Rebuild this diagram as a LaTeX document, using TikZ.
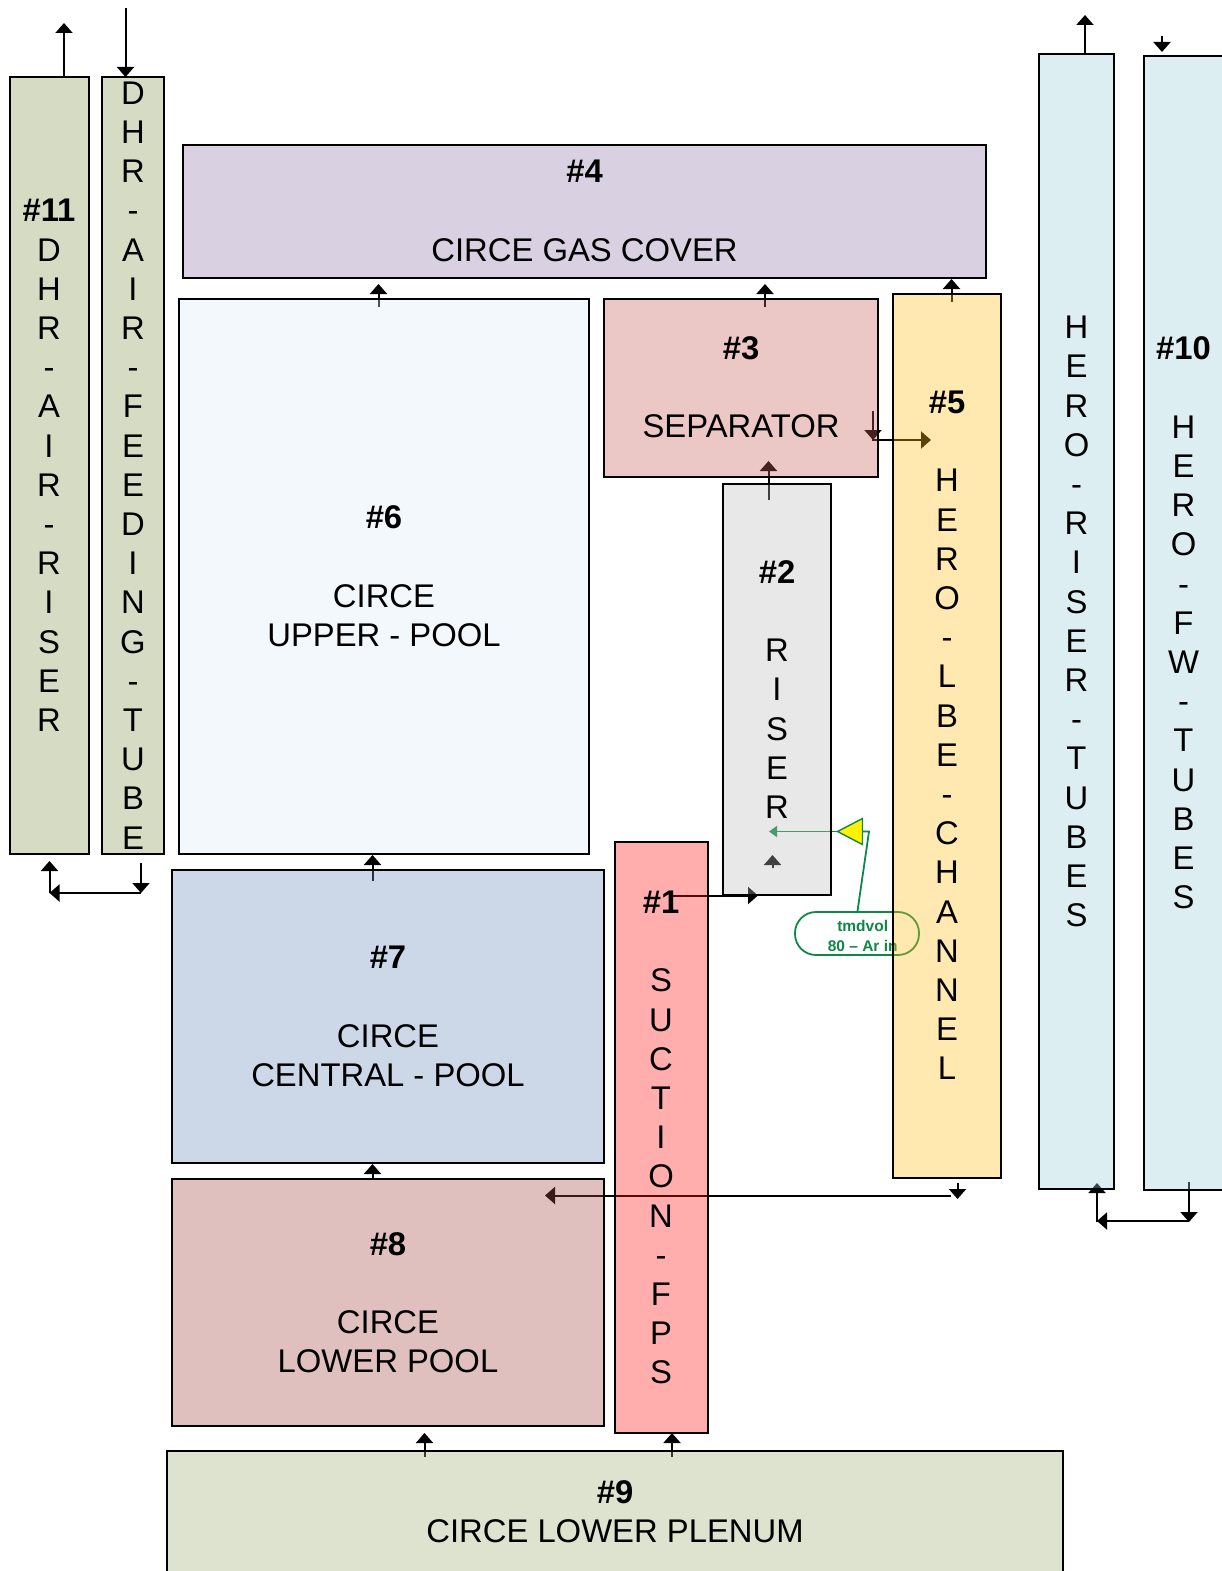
\documentclass[tikz,border=0pt]{standalone}
\usepackage{fontspec}
\setmainfont{Liberation Sans}
\usetikzlibrary{arrows.meta,backgrounds}
\definecolor{riserGreen}{RGB}{138,155,84}
\definecolor{gasPurple}{RGB}{146,121,172}
\definecolor{upperBlue}{RGB}{221,235,246}
\definecolor{sepRed}{RGB}{198,98,92}
\definecolor{lbeYellow}{RGB}{255,192,29}
\definecolor{riserGray}{RGB}{189,189,189}
\definecolor{suctionRed}{RGB}{255,21,21}
\definecolor{centralBlue}{RGB}{109,144,189}
\definecolor{lowerBrown}{RGB}{164,75,69}
\definecolor{plenumGreen}{RGB}{158,175,118}
\definecolor{heroBlue}{RGB}{158,206,221}
\definecolor{tagGreen}{RGB}{14,135,72}
\tikzset{
  blockbox/.style={draw=black,line width=2pt,fill opacity=.35,text opacity=1,inner sep=0pt,
    align=center,font=\fontsize{32.8}{39.2}\selectfont},
  flowarrow/.style={line width=2pt,-{Triangle[width=17pt,length=10pt]}},
  tagarrow/.style={tagGreen,line width=1.8pt,-{Triangle[width=11pt,length=8pt]}}
}
\begin{document}
\begin{tikzpicture}[x=1pt,y=-1pt]
\useasboundingbox (0,0) rectangle (1221,1571);
% blocks
\node[blockbox,fill=riserGreen,minimum width=79pt,minimum height=777pt] (dhrRiser) at (49,465.5) {\textbf{\#11}\\D\\H\\R\\-\\A\\I\\R\\-\\R\\I\\S\\E\\R};
\node[blockbox,fill=riserGreen,minimum width=62pt,minimum height=777pt] (dhrFeed) at (133,465.5) {D\\H\\R\\-\\A\\I\\R\\-\\F\\E\\E\\D\\I\\N\\G\\-\\T\\U\\B\\E};
\node[blockbox,fill=gasPurple,minimum width=803pt,minimum height=133pt] (gasCover) at (584.5,211) {\textbf{\#4}\\[39.2pt]CIRCE GAS COVER};
\node[blockbox,fill=upperBlue,minimum width=410pt,minimum height=555pt] (upperPool) at (384,576.5) {\textbf{\#6}\\[39.2pt]CIRCE\\UPPER - POOL};
\node[blockbox,fill=sepRed,minimum width=274pt,minimum height=178pt] (separator) at (741,387.5) {\textbf{\#3}\\[39.2pt]SEPARATOR};
\node[blockbox,fill=lbeYellow,minimum width=108pt,minimum height=884pt] (lbeChannel) at (947,735.5) {\textbf{\#5}\\[39.2pt]H\\E\\R\\O\\-\\L\\B\\E\\-\\C\\H\\A\\N\\N\\E\\L};
\node[blockbox,fill=riserGray,minimum width=108pt,minimum height=411pt] (riser) at (777,689.5) {\textbf{\#2}\\[39.2pt]R\\I\\S\\E\\R};
\node[blockbox,fill=suctionRed,minimum width=93pt,minimum height=591pt] (suction) at (661,1137.5) {\textbf{\#1}\\[39.2pt]S\\U\\C\\T\\I\\O\\N\\-\\F\\P\\S};
\node[blockbox,fill=centralBlue,minimum width=432pt,minimum height=293pt] (centralPool) at (388,1016.5) {\textbf{\#7}\\[39.2pt]CIRCE\\CENTRAL - POOL};
\node[blockbox,fill=lowerBrown,minimum width=432pt,minimum height=247pt] (lowerPool) at (388,1302.5) {\textbf{\#8}\\[39.2pt]CIRCE\\LOWER POOL};
\node[blockbox,fill=plenumGreen,minimum width=896pt,minimum height=122pt] (lowerPlenum) at (615,1512) {\textbf{\#9}\\CIRCE LOWER PLENUM};
\node[blockbox,fill=heroBlue,minimum width=75pt,minimum height=1134pt] (heroRiser) at (1076.5,621.5) {H\\E\\R\\O\\-\\R\\I\\S\\E\\R\\-\\T\\U\\B\\E\\S};
\node[blockbox,fill=heroBlue,minimum width=80pt,minimum height=1133pt] (heroFeed) at (1183.5,623) {\textbf{\#10}\\[39.2pt]H\\E\\R\\O\\-\\F\\W\\-\\T\\U\\B\\E\\S};
% free ends of the connectors
\coordinate (dhrOutA) at (64,77);      \coordinate (dhrOutB) at (64,23);
\coordinate (dhrInA) at (125.5,8);     \coordinate (dhrInB) at (125.5,77);
\coordinate (dhrLoopA) at (141,863);   \coordinate (dhrLoopB) at (141,893);
\coordinate (dhrLoopC) at (49.5,893);  \coordinate (dhrLoopD) at (49.5,861);
\coordinate (poolOutA) at (378.5,307); \coordinate (poolOutB) at (378.5,284);
\coordinate (sepOutA) at (765,307);    \coordinate (sepOutB) at (765,284);
\coordinate (lbeOutA) at (951.5,302);  \coordinate (lbeOutB) at (951.5,279);
\coordinate (sepDownA) at (873,411);   \coordinate (sepDownB) at (873,440);
\coordinate (sepLbeA) at (872,440);    \coordinate (sepLbeB) at (931,440);
\coordinate (riserOutA) at (768.5,500);\coordinate (riserOutB) at (768.5,461);
\coordinate (riserInA) at (772.5,868); \coordinate (riserInB) at (772.5,855);
\coordinate (fpsOutA) at (673,895.5);  \coordinate (fpsOutB) at (758,895.5);
\coordinate (centralUpA) at (372.5,881);  \coordinate (centralUpB) at (372.5,855);
\coordinate (lowerUpA) at (372.5,1178);   \coordinate (lowerUpB) at (372.5,1164);
\coordinate (lbeDownA) at (957.5,1183);   \coordinate (lbeDownB) at (957.5,1199);
\coordinate (lbeBackA) at (951,1195.5);   \coordinate (lbeBackB) at (545,1195.5);
\coordinate (plenumUpA) at (424.5,1457);  \coordinate (plenumUpB) at (424.5,1433);
\coordinate (plenumFpsA) at (672,1457);   \coordinate (plenumFpsB) at (672,1433);
\coordinate (heroOutA) at (1085,53);   \coordinate (heroOutB) at (1085,15);
\coordinate (heroInA) at (1162,36);    \coordinate (heroInB) at (1162,52);
\coordinate (heroLoopA) at (1189,1182);\coordinate (heroLoopB) at (1189,1222);
\coordinate (heroLoopC) at (1097,1221);\coordinate (heroLoopD) at (1097,1183);
\coordinate (valveTip) at (837.5,831.5);
\coordinate (valveTop) at (862.5,818.5);
\coordinate (valveLow) at (862.5,844.5);
\coordinate (valveBack) at (862.5,831.5);
\coordinate (valveBend) at (869,831.5);
\coordinate (gasTarget) at (769,831.5);
% connectors lie below the blocks
\begin{scope}[on background layer]
\draw[flowarrow] (dhrOutA) -- (dhrOutB);
\draw[flowarrow] (dhrInA) -- (dhrInB);
\draw[flowarrow] (dhrLoopA) -- (dhrLoopB);
\draw[flowarrow] (dhrLoopB) -- (dhrLoopC);
\draw[flowarrow] (dhrLoopC) -- (dhrLoopD);
\draw[flowarrow] (poolOutA) -- (poolOutB);
\draw[flowarrow] (sepOutA) -- (sepOutB);
\draw[flowarrow] (lbeOutA) -- (lbeOutB);
\draw[flowarrow] (sepDownA) -- (sepDownB);
\draw[flowarrow] (sepLbeA) -- (sepLbeB);
\draw[flowarrow] (riserOutA) -- (riserOutB);
\draw[flowarrow] (riserInA) -- (riserInB);
\draw[flowarrow] (fpsOutA) -- (fpsOutB);
\draw[flowarrow] (centralUpA) -- (centralUpB);
\draw[flowarrow] (lowerUpA) -- (lowerUpB);
\draw[flowarrow] (lbeDownA) -- (lbeDownB);
\draw[flowarrow] (lbeBackA) -- (lbeBackB);
\draw[flowarrow] (plenumUpA) -- (plenumUpB);
\draw[flowarrow] (plenumFpsA) -- (plenumFpsB);
\draw[flowarrow] (heroOutA) -- (heroOutB);
\draw[flowarrow] (heroInA) -- (heroInB);
\draw[flowarrow] (heroLoopA) -- (heroLoopB);
\draw[flowarrow] (heroLoopB |- heroLoopC) -- (heroLoopC);
\draw[flowarrow] (heroLoopC |- heroLoopB) -- (heroLoopD);
% argon injection tag
\node[draw=tagGreen,line width=1.8pt,rounded corners=21pt,fill=white,minimum width=124pt,minimum height=43pt,inner sep=0pt] (argonTag) at (857,933.5) {};
\node[tagGreen,inner sep=0pt,align=center,font=\fontsize{15.5}{20}\selectfont\bfseries] (argonText) at (862.7,936) {tmdvol\\80 – Ar in};
\draw[tagarrow] (valveTip) -- (gasTarget);
\draw[tagGreen,line width=1.4pt,fill=yellow] (valveTip) -- (valveTop) -- (valveLow) -- cycle;
\draw[tagGreen,line width=1.8pt] (valveBack) -- (valveBend) -- (argonTag.north -| 857.5,0);
\end{scope}
\end{tikzpicture}
\end{document}
